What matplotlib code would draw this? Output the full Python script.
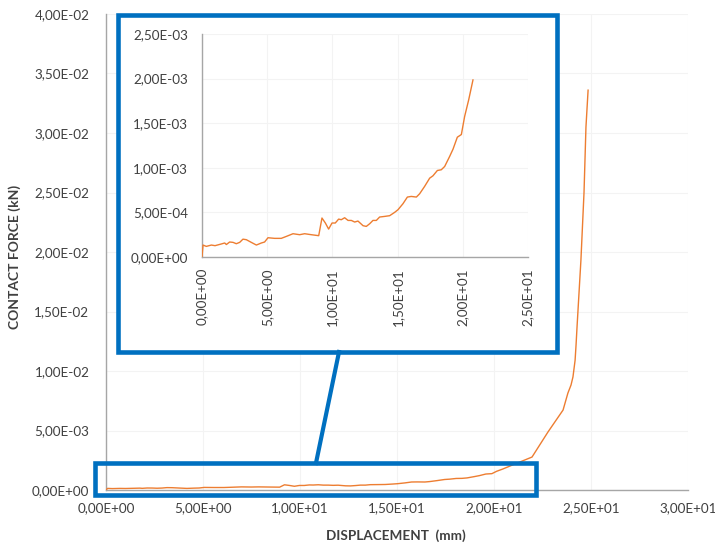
import matplotlib.pyplot as plt
import matplotlib as mpl
from matplotlib.patches import Rectangle
from matplotlib.lines import Line2D
from matplotlib.ticker import FuncFormatter, MultipleLocator

mpl.rcParams['font.family'] = ['Lato', 'DejaVu Sans']

# 位移 (mm) 与接触力 (kN)
disp = [0.0, 0.08, 0.33, 0.72, 1.0, 1.48, 1.74, 1.87, 2.12, 2.38, 2.63, 2.89, 3.14, 3.4,
        3.78, 4.17, 4.55, 4.8, 5.06, 5.57, 6.08, 6.47, 6.98, 7.49, 7.87, 8.38, 8.95,
        9.2, 9.46, 9.71, 9.97, 10.22, 10.48, 10.68, 10.94, 11.2, 11.45, 11.71, 11.96,
        12.35, 12.6, 12.86, 13.11, 13.37, 13.62, 14.0, 14.39, 14.77, 15.03, 15.41,
        15.75, 16.05, 16.44, 16.69, 17.07, 17.46, 17.71, 18.05, 18.35, 18.61, 18.99,
        19.25, 19.58, 19.89, 20.14, 20.45, 20.78]
force = [0.0, 1.34e-4, 1.19e-4, 1.34e-4, 1.27e-4, 1.46e-4, 1.57e-4, 1.40e-4, 1.68e-4,
         1.64e-4, 1.49e-4, 1.64e-4, 2.0e-4, 1.94e-4, 1.64e-4, 1.34e-4, 1.57e-4, 1.68e-4,
         2.16e-4, 2.09e-4, 2.09e-4, 2.31e-4, 2.61e-4, 2.5e-4, 2.61e-4, 2.5e-4, 2.39e-4,
         4.37e-4, 3.81e-4, 3.13e-4, 3.81e-4, 3.81e-4, 4.25e-4, 4.18e-4, 4.40e-4, 4.1e-4,
         4.1e-4, 3.92e-4, 4.03e-4, 3.51e-4, 3.43e-4, 3.73e-4, 4.1e-4, 4.1e-4, 4.48e-4,
         4.55e-4, 4.63e-4, 5.0e-4, 5.3e-4, 5.97e-4, 6.72e-4, 6.79e-4, 6.72e-4, 7.09e-4,
         7.91e-4, 8.84e-4, 9.1e-4, 9.7e-4, 9.78e-4, 1.015e-3, 1.127e-3, 1.209e-3,
         1.343e-3, 1.373e-3, 1.575e-3, 1.761e-3, 1.985e-3]

# 主图后段 (插图里没有的部分)
disp_tail = [21.96, 22.78, 23.56, 23.81, 23.97, 24.07, 24.18, 24.23, 24.28, 24.48, 24.64,
             24.74, 24.85]
force_tail = [2.77e-3, 4.87e-3, 6.72e-3, 8.15e-3, 8.82e-3, 9.5e-3, 1.09e-2, 1.22e-2,
              1.37e-2, 1.93e-2, 2.50e-2, 3.05e-2, 3.36e-2]

line_color = '#ED7D31'
box_color = '#0070C0'
axis_color = '#a6a6a6'
text_color = '#404040'


def sci_comma(v, pos):
    # Excel 风格: 4,00E-02
    return '{:.2E}'.format(v).replace('.', ',')


def style_axes(ax):
    for s in ['top', 'right']:
        ax.spines[s].set_visible(False)
    for s in ['left', 'bottom']:
        ax.spines[s].set_color(axis_color)
        ax.spines[s].set_linewidth(1.0)
    ax.tick_params(length=0, labelsize=9.7, colors=text_color)
    ax.grid(True, color='#f3f3f3', linewidth=0.8)
    ax.set_axisbelow(True)
    ax.xaxis.set_major_formatter(FuncFormatter(sci_comma))
    ax.yaxis.set_major_formatter(FuncFormatter(sci_comma))


figure = plt.figure(figsize=(7.15, 5.47), dpi=100)
W, H = 715.0, 547.0

# 主图
ax = figure.add_axes([106 / W, 1 - 490 / H, 582 / W, 476 / H])
ax.plot(disp + disp_tail, force + force_tail, color=line_color, linewidth=1.0, zorder=3)
ax.set_xlim(0, 30)
ax.set_ylim(0, 0.04)
ax.xaxis.set_major_locator(MultipleLocator(5))
ax.yaxis.set_major_locator(MultipleLocator(0.005))
style_axes(ax)
ax.tick_params(axis='x', pad=9)
ax.tick_params(axis='y', pad=12)
ax.set_xlabel('DISPLACEMENT  (mm)', fontsize=9.7, fontweight='bold', color=text_color)
ax.xaxis.set_label_coords((396 - 106) / 582, -(529 - 490) / 476)
ax.set_ylabel('CONTACT FORCE (kN)', fontsize=10, fontweight='bold', color=text_color)
ax.yaxis.set_label_coords((21 - 106) / 582, (490 - 257) / 476)

# 放大框 (小) 和 插图框 (大)
small = Rectangle((95 / W, 1 - 495 / H), 441 / W, 32 / H, transform=figure.transFigure,
                  fill=False, edgecolor=box_color, linewidth=3.3, zorder=3)
big = Rectangle((118.5 / W, 1 - 352 / H), 439 / W, 337 / H, transform=figure.transFigure,
                facecolor='white', edgecolor=box_color, linewidth=3.3, zorder=1)
conn = Line2D([339 / W, 316 / W], [1 - 352 / H, 1 - 463 / H], transform=figure.transFigure,
              color=box_color, linewidth=3.0, zorder=3)
figure.patches.extend([small, big])
figure.lines.append(conn)

# 插图
zoom = figure.add_axes([202 / W, 1 - 257 / H, 326 / W, 223 / H])
zoom.set_zorder(2)
zoom.patch.set_alpha(0)
zoom.plot(disp, force, color=line_color, linewidth=1.0, zorder=3)
zoom.set_xlim(0, 25)
zoom.set_ylim(0, 0.0025)
zoom.xaxis.set_major_locator(MultipleLocator(5))
zoom.yaxis.set_major_locator(MultipleLocator(0.0005))
style_axes(zoom)
zoom.tick_params(axis='x', pad=8, labelrotation=90)
zoom.tick_params(axis='y', pad=10)

figure.savefig('out.png', dpi=100)
